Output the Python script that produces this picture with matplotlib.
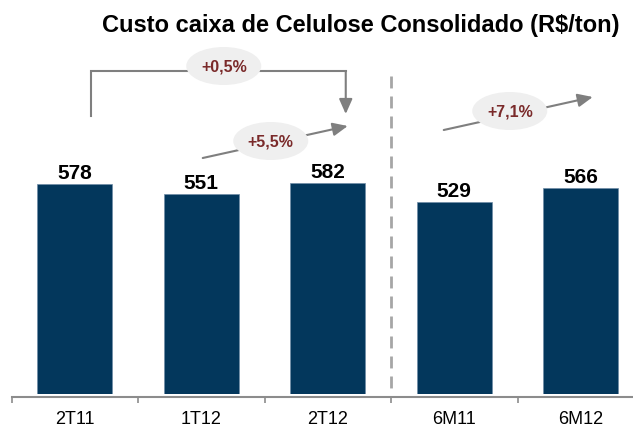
import matplotlib
matplotlib.use("Agg")
import matplotlib.pyplot as plt
from matplotlib.patches import Ellipse

categories = ["2T11", "1T12", "2T12", "6M11", "6M12"]
values = [578, 551, 582, 529, 566]
changes = ["+0,5%", "+5,5%", "+7,1%"]
title = "Custo caixa de Celulose Consolidado (R$/ton)"

plt.rcParams['font.family'] = ['Liberation Sans', 'DejaVu Sans']

W, H = 633, 427
fig = plt.figure(figsize=(W / 100, H / 100), dpi=100)
ax_left, ax_base, ax_top = 11.5, 395, 40
slot = 126.5
x0px = 74.0
px_per_unit = 0.3633
ax = fig.add_axes([ax_left / W, 1 - ax_base / H, (W - ax_left) / W, (ax_base - ax_top) / H])
xmax = -0.5 + (W - ax_left) / slot
ymax = (ax_base - ax_top) / px_per_unit
ax.set_xlim(-0.5, xmax)
ax.set_ylim(0, ymax)

navy = "#03375C"
x = list(range(len(categories)))
ax.bar(x, values, width=75 / slot, color=navy, edgecolor="#6F8CA6", linewidth=0.5, zorder=2)
for xi, v in zip(x, values):
    ax.text(xi, v + 6 / px_per_unit, str(v), ha="center", va="baseline", fontsize=15,
            fontweight="bold", color="black")

for s in ["top", "right", "left"]:
    ax.spines[s].set_visible(False)
ax.spines["bottom"].set_color("#8C8C8C")
ax.spines["bottom"].set_linewidth(1.5)
ax.spines["bottom"].set_position(("outward", 2.2))
ax.set_yticks([])
ax.set_xticks([i - 0.5 for i in range(len(categories))], minor=False)
ax.set_xticklabels([])
ax.tick_params(axis="x", which="major", length=4, width=1.2, color="#8C8C8C", direction="out")
ax.set_xticks(x, minor=True)
ax.set_xticklabels(categories, minor=True, fontsize=13)
ax.tick_params(axis="x", which="minor", length=0, pad=9.5)

grey = "#7F7F7F"
red = "#7A2A2A"
ell_fc = "#EFEFEF"

def to_data(px, py):
    return (px - x0px) / slot, (ax_base - py) / px_per_unit

# dashed separator
dtop = to_data(390, 77)
ax.plot([2.5, 2.5], [dtop[1], -3 / px_per_unit], color="#A6A6A6", linestyle=(0, (4.3, 2.9)),
        linewidth=2, zorder=1, clip_on=False)

def ellipse(px, py, text):
    cx, cy = to_data(px, py)
    e = Ellipse((cx, cy), width=75 / slot, height=38 / px_per_unit, facecolor=ell_fc,
                edgecolor="none", zorder=4)
    ax.add_patch(e)
    ax.text(cx, cy, text, ha="center", va="center", fontsize=11.5, fontweight="bold", color=red, zorder=5)

astyle = dict(arrowstyle="-|>,head_length=0.9,head_width=0.4", color=grey, lw=1.5, shrinkA=0, shrinkB=0)

# bracket 2T11 -> 2T12
p1 = to_data(90, 117); p2 = to_data(90, 72); p3 = to_data(345, 72); p4 = to_data(345, 115)
ax.plot([p1[0], p2[0], p3[0]], [p1[1], p2[1], p3[1]], color=grey, linewidth=1.5, zorder=3,
        solid_joinstyle="miter")
ax.annotate("", xy=p4, xytext=p3, arrowprops=astyle, zorder=3)
ellipse(223, 67, changes[0])

# 1T12 -> 2T12
ax.annotate("", xy=to_data(347, 127), xytext=to_data(202, 159), arrowprops=astyle, zorder=3)
ellipse(270, 142, changes[1])

# 6M11 -> 6M12
ax.annotate("", xy=to_data(592, 98), xytext=to_data(443, 131), arrowprops=astyle, zorder=3)
ellipse(509, 112, changes[2])

fig.text(361 / W, 1 - 32 / H, title, ha="center", va="baseline", fontsize=17, fontweight="bold")

fig.savefig("out.png", dpi=100)
